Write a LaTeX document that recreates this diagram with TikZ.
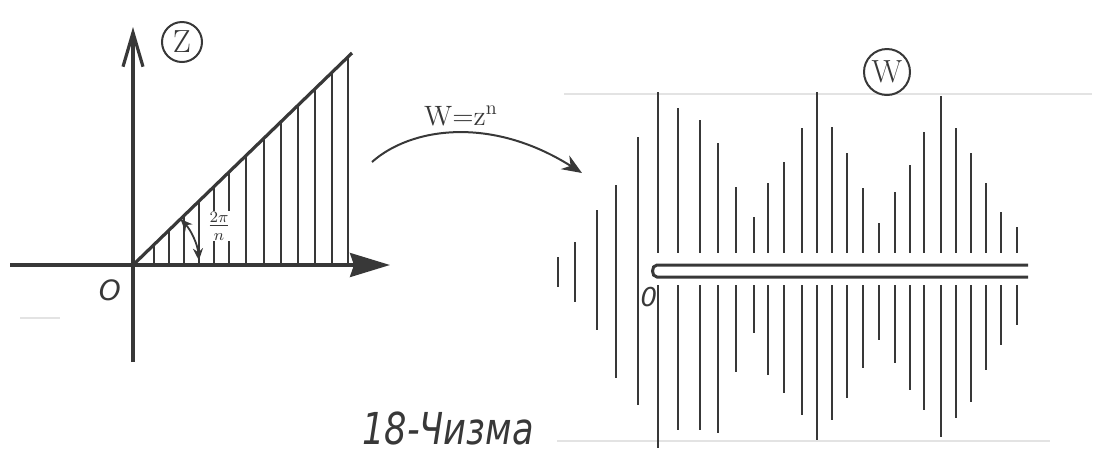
\documentclass[tikz,border=0pt]{standalone}
\usepackage{fontspec}
\usepackage{tikz}
\usetikzlibrary{arrows.meta}
\newfontfamily\handfont{DejaVu Sans}
\definecolor{ink}{gray}{0.22}

\begin{document}
\begin{tikzpicture}[x=0.5pt, y=-0.5pt,
    axis/.style={line width=1.6pt, draw=ink},
    hatch/.style={line width=0.7pt, draw=ink},
    wline/.style={line width=0.9pt, draw=ink},
    slitline/.style={line width=1.5pt, draw=ink},
    faint/.style={line width=0.8pt, draw=black!11},
    planelabel/.style={circle, draw=ink, text=ink, line width=1pt, inner sep=0pt, font=\fontsize{16}{16}\selectfont}]
    \useasboundingbox (0,0) rectangle (1094,452);

    % Ruled lines of the page
    \draw[faint] (564,94) -- (1092,94);
    \draw[faint] (557,441) -- (1050,441);
    \draw[faint] (20,318) -- (60,318);

    % Z plane: axes
    \coordinate (oz) at (133,265);
    \draw[axis, -{Stealth[length=20pt,width=12pt,inset=2pt]}] (10,265) -- (390,265);
    \draw[axis, -{Straight Barb[length=17pt,width=10pt]}] (133,362) -- (133,27);
    \node[planelabel, minimum size=20pt] (zname) at (182,42) {Z};
    \node[text=ink, font=\handfont\itshape\fontsize{14}{14}\selectfont] (zorigin) at (110,290) {O};

    % Z plane: hatched sector
    \coordinate (tz) at (352,53);
    \foreach \x in {154,169,184,199,214,229,246,264,281,298,315,332,348}
        \draw[hatch] (\x,265) -- (\x,{265-0.968*(\x-133)});
    \draw[axis] (oz) -- (tz);
    \draw[line width=0.9pt, draw=ink, {Stealth[length=6pt,width=5pt]}-{Stealth[length=6pt,width=5pt]}]
        (oz) ++(-44:66) arc (-44:-4:66);
    \node[fill=white, text=ink, inner sep=0.6pt, font=\fontsize{12}{13}\selectfont] (zangle) at (219,226) {$\frac{2\pi}{n}$};

    % Mapping arrow
    \coordinate (mapfrom) at (372,162);
    \coordinate (mapto) at (582,173);
    \draw[line width=1pt, draw=ink, -{Stealth[length=10pt,width=8pt]}] (mapfrom) .. controls (410,128) and (490,115) .. (mapto);
    \node[text=ink, font=\fontsize{14}{14}\selectfont] (maplabel) at (461,116) {W=z\textsuperscript{n}};

    % W plane: lines left of the cut
    \foreach \x/\t/\b in {558/257/287, 575/242/302, 597/210/330, 616/185/378, 638/137/405}
        \draw[wline] (\x,\t) -- (\x,\b);
    % W plane: lines broken by the cut
    \foreach \x/\t/\b in {658/92/448, 678/108/430, 700/120/430, 718/143/433, 736/187/372,
                         754/217/333, 768/183/375, 784/162/393, 802/128/415, 817/92/440,
                         832/127/420, 847/153/398, 863/188/368, 879/223/340, 895/192/363,
                         910/165/390, 924/132/410, 941/96/437, 956/128/418, 971/153/402,
                         986/183/370, 1001/212/345, 1017/227/325}
        \draw[wline] (\x,\t) -- (\x,253) (\x,285) -- (\x,\b);

    % W plane: the cut along the positive axis
    \draw[slitline] (1028,265) -- (657,265) .. controls (651,265) and (651,277) .. (657,277) -- (1028,277);
    \node[text=ink, font=\handfont\itshape\fontsize{13}{13}\selectfont] (worigin) at (649,297) {0};
    \node[planelabel, minimum size=23pt] (wname) at (887,72) {W};

    % Caption
    \node[text=ink, font=\handfont\itshape\fontsize{22}{22}\selectfont, xscale=0.8] (caption) at (448,428) {18-Чизма};
\end{tikzpicture}
\end{document}
